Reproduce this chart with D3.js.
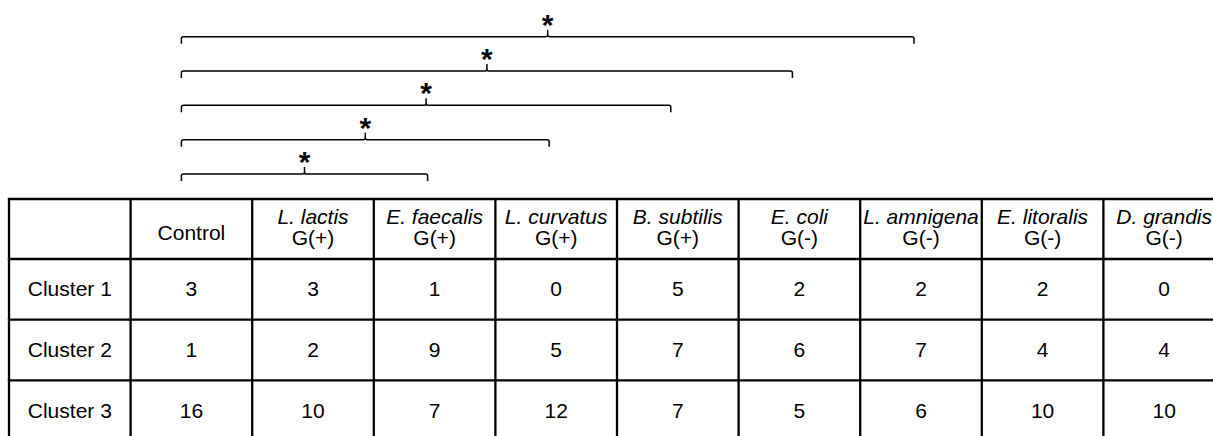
<!DOCTYPE html>
<html>
<head>
<meta charset="utf-8">
<script src="https://cdn.jsdelivr.net/npm/d3@7"></script>
<style>
  html, body { margin: 0; padding: 0; background: #fff; }
  svg { display: block; }
  text { font-family: "Liberation Sans", Arial, sans-serif; fill: #000; }
</style>
</head>
<body>
<svg id="chart" width="1213" height="436"></svg>
<script>
// ---- data ----
const speciesNames = ["Control", "L. lactis", "E. faecalis", "L. curvatus", "B. subtilis", "E. coli", "L. amnigena", "E. litoralis", "D. grandis"];
const gramLabels   = ["", "G(+)", "G(+)", "G(+)", "G(+)", "G(-)", "G(-)", "G(-)", "G(-)"];
const clusters = ["Cluster 1", "Cluster 2", "Cluster 3"];
const cluster1 = [3, 3, 1, 0, 5, 2, 2, 2, 0];
const cluster2 = [1, 2, 9, 5, 7, 6, 7, 4, 4];
const cluster3 = [16, 10, 7, 12, 7, 5, 6, 10, 10];
const clusterValues = [cluster1, cluster2, cluster3];
// significance comparisons: Control vs each of these (bottom to top)
const comparedWith = ["E. faecalis", "L. curvatus", "B. subtilis", "E. coli", "L. amnigena"];
const sigMarks = ["*", "*", "*", "*", "*"];

// ---- layout ----
const svg = d3.select("#chart");
const colKeys = ["__rowhead__"].concat(speciesNames);
const x = d3.scaleBand().domain(colKeys).range([9, 9 + 121.6 * colKeys.length]);
const tableTop = 199, headerH = 60;
const y = d3.scaleBand().domain(clusters).range([tableTop + headerH, tableTop + headerH + 60.7 * clusters.length]);
const fs = 21, cap = fs * 0.716;
const cx = k => x(k) + x.bandwidth() / 2;

const grid = svg.append("g").attr("stroke", "#000").attr("stroke-width", 2.3);
const xLeft = x.range()[0], xRight = x.range()[1];
const hLines = [tableTop, tableTop + headerH].concat(clusters.map(c => y(c) + y.bandwidth()));
grid.selectAll("line.h").data(hLines).join("line")
  .attr("x1", xLeft - 1.15).attr("x2", xRight).attr("y1", d => d).attr("y2", d => d);
const vLines = colKeys.map(k => x(k)).concat([xRight]);
grid.selectAll("line.v").data(vLines).join("line")
  .attr("x1", d => d).attr("x2", d => d).attr("y1", tableTop).attr("y2", y.range()[1]);

// header
const hc = tableTop + headerH / 2;
const head = svg.append("g").attr("font-size", fs).attr("text-anchor", "middle");
speciesNames.forEach((s, i) => {
  if (gramLabels[i] === "") {
    head.append("text").attr("x", cx(s)).attr("y", hc + 10.5).text(s);
  } else {
    const t = head.append("text").attr("x", cx(s)).attr("y", hc - 12.5 + cap / 2);
    t.append("tspan").attr("font-style", "italic").text(s);
    t.append("tspan").attr("x", cx(s)).attr("dy", 21).text(gramLabels[i]);
  }
});

// body
const body = svg.append("g").attr("font-size", fs).attr("text-anchor", "middle");
clusters.forEach((c, r) => {
  const cy = y(c) + y.bandwidth() / 2 + cap / 2 - 0.5;
  body.append("text").attr("x", cx("__rowhead__")).attr("y", cy).text(c);
  clusterValues[r].forEach((v, i) => {
    body.append("text").attr("x", cx(speciesNames[i])).attr("y", cy).text(v);
  });
});

// brackets
const by = d3.scalePoint().domain(comparedWith).range([174, 36.7]);
const br = svg.append("g");
comparedWith.forEach((s, i) => {
  const yy = by(s);
  const xl = cx("Control") - 10;
  const xr = cx(s) - 7;
  const xc = (xl + xr) / 2;
  const h = 7, r = 2;
  const p = d3.path();
  p.moveTo(xl, yy + h); p.lineTo(xl, yy + r); p.quadraticCurveTo(xl, yy, xl + r, yy);
  p.lineTo(xc - r, yy); p.quadraticCurveTo(xc, yy, xc, yy - r); p.lineTo(xc, yy - h);
  p.moveTo(xc, yy - r); p.quadraticCurveTo(xc, yy, xc + r, yy);
  p.lineTo(xr - r, yy); p.quadraticCurveTo(xr, yy, xr, yy + r); p.lineTo(xr, yy + h);
  br.append("path").attr("d", p.toString()).attr("fill", "none").attr("stroke", "#000").attr("stroke-width", 1.5);
  br.append("text").attr("x", xc).attr("y", yy - 2).attr("text-anchor", "middle")
    .attr("font-size", 30).attr("font-weight", "bold").text(sigMarks[i]);
});
</script>
</body>
</html>
